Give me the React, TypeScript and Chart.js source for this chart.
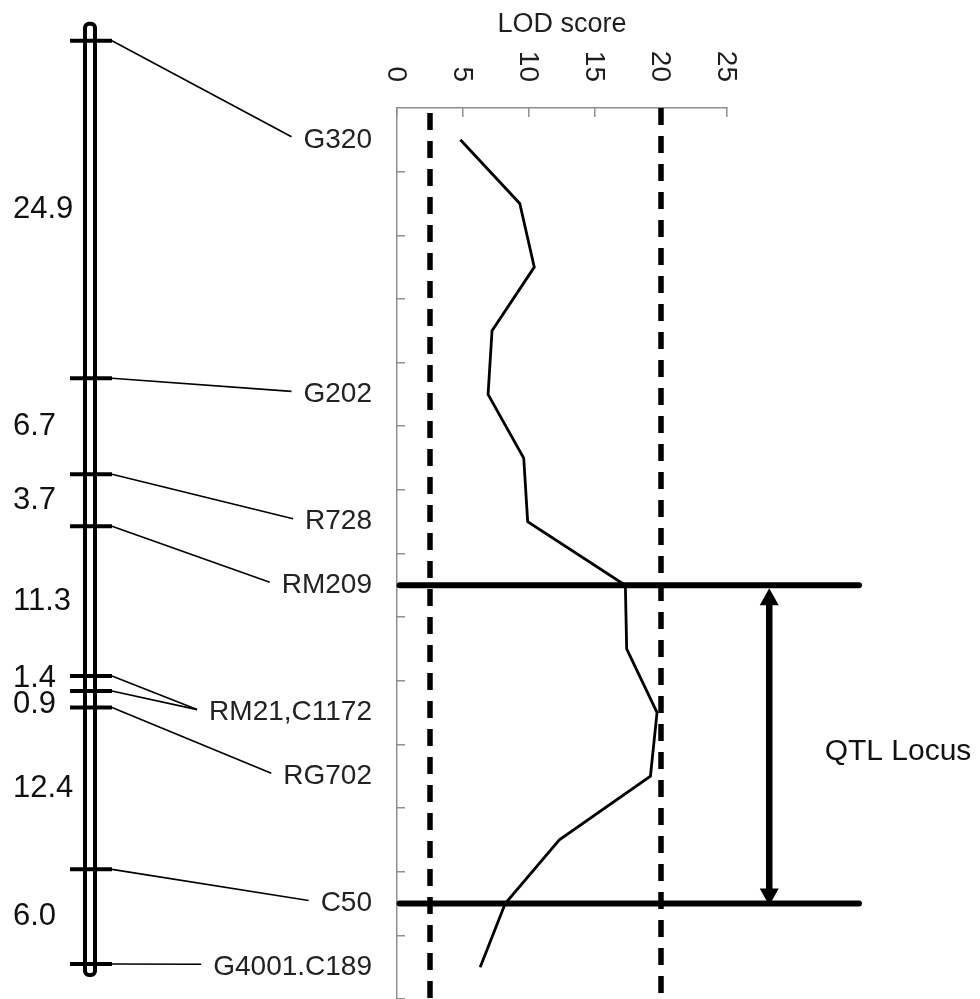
import React, { useEffect, useRef } from 'react';
import { Chart, registerables } from 'chart.js';

Chart.register(...registerables);

// ---------- DATA ----------
// Genetic linkage map (left panel)
const MARKER_NAMES = ['G320', 'G202', 'R728', 'RM209', 'RM21', 'C1172', 'RG702', 'C50', 'G4001.C189'];
const MARKER_POS_CM = [0, 24.6, 31.6, 35.4, 46.3, 47.4, 48.6, 60.4, 67.3];
const INTERVAL_LABELS = ['24.9', '6.7', '3.7', '11.3', '1.4', '0.9', '12.4', '6.0'];
const MARKER_LABELS = ['G320', 'G202', 'R728', 'RM209', 'RM21,C1172', 'RG702', 'C50', 'G4001.C189'];
const MARKER_LABEL_ROWS = [0, 4, 6, 7, 9, 10, 12, 13];
const MARKER_LABEL_LINKS = [[0], [1], [2], [3], [4, 5], [6], [7], [8]];

// LOD profile (right panel)
const PROFILE_ROWS = [0, 1, 2, 3, 4, 5, 6, 7, 8, 9, 10, 11, 12, 13];
const LOD_VALUES = [4.8, 9.3, 10.4, 7.2, 6.9, 9.6, 9.9, 17.3, 17.4, 19.7, 19.2, 12.3, 8.2, 6.3];
const LOD_THRESHOLDS = [2.5, 20];
const LOD_TICKS = [0, 5, 10, 15, 20, 25];
const ROW_TICKS = [0.5, 1.5, 2.5, 3.5, 4.5, 5.5, 6.5, 7.5, 8.5, 9.5, 10.5, 11.5, 12.5, 13.5];
const QTL_ROWS = [7, 12];
const AXIS_TITLE = 'LOD score';
const QTL_TEXT = 'QTL Locus';

// ---------- LAYOUT / STYLE ----------
const W = 980;
const H = 999;
const PLOT = { left: 397, top: 108, right: 727, bottom: 999 };
const MAP_TOP_PX = 40.7;
const MAP_BOTTOM_PX = 964;
const MAP_FIRST = MARKER_POS_CM[0];
const MAP_LAST = MARKER_POS_CM[MARKER_POS_CM.length - 1];
const MAP_PX_PER_CM = (MAP_BOTTOM_PX - MAP_TOP_PX) / (MAP_LAST - MAP_FIRST);
const MAP_MIN = MAP_FIRST + (PLOT.top - MAP_TOP_PX) / MAP_PX_PER_CM;
const MAP_MAX = MAP_LAST + (PLOT.bottom - MAP_BOTTOM_PX) / MAP_PX_PER_CM;
const QTL_LINE_SPAN = [0.2, 35];
const ARROW_LOD_X = 28.2;
const AXIS_GREY = '#8f8f8f';
const FONT = '"Liberation Sans", Arial, Helvetica, sans-serif';

const overlayPlugin = {
  id: 'qtlOverlay',
  afterDraw(chart: any) {
    const ctx = chart.ctx as CanvasRenderingContext2D;
    const xs = chart.scales.x;
    const ys = chart.scales.y;
    const ms = chart.scales.map;
    const area = chart.chartArea;
    ctx.save();

    // Axis title
    ctx.fillStyle = '#1e1e1e';
    ctx.font = `27px ${FONT}`;
    ctx.textAlign = 'center';
    ctx.textBaseline = 'middle';
    ctx.fillText(AXIS_TITLE, (area.left + area.right) / 2, 25);

    // Rotated tick labels (reading top to bottom)
    ctx.font = `28px ${FONT}`;
    LOD_TICKS.forEach((v) => {
      ctx.save();
      ctx.translate(xs.getPixelForValue(v) - 1, 82);
      ctx.rotate(Math.PI / 2);
      ctx.textAlign = 'right';
      ctx.textBaseline = 'middle';
      ctx.fillText(String(v), 0, 0);
      ctx.restore();
    });

    // Chromosome bar
    const yOf = (cm: number) => ms.getPixelForValue(cm);
    const yFirst = yOf(MAP_FIRST);
    const yLast = yOf(MAP_LAST);
    const barTop = yFirst - 17;
    const barBot = yLast + 11;
    ctx.strokeStyle = '#000';
    ctx.lineWidth = 4;
    ctx.beginPath();
    (ctx as any).roundRect(85, barTop, 10, barBot - barTop, 4);
    ctx.stroke();

    // Marker ticks
    ctx.lineWidth = 4;
    ctx.lineCap = 'butt';
    MARKER_POS_CM.forEach((cm) => {
      const y = yOf(cm);
      ctx.beginPath();
      ctx.moveTo(70, y);
      ctx.lineTo(112, y);
      ctx.stroke();
    });

    // Marker labels + connector lines
    ctx.font = `28px ${FONT}`;
    ctx.textAlign = 'right';
    ctx.textBaseline = 'middle';
    ctx.fillStyle = '#222';
    MARKER_LABELS.forEach((txt, i) => {
      const y = ys.getPixelForValue(MARKER_LABEL_ROWS[i]);
      const labelRight = 372;
      ctx.fillText(txt, labelRight, y);
      const w = ctx.measureText(txt).width;
      const endX = labelRight - w - 12;
      ctx.lineWidth = 1.6;
      MARKER_LABEL_LINKS[i].forEach((mi) => {
        ctx.beginPath();
        ctx.moveTo(112, yOf(MARKER_POS_CM[mi]));
        ctx.lineTo(endX, y - 3);
        ctx.stroke();
      });
    });

    // Interval distance labels (spread apart when too close)
    const mids = INTERVAL_LABELS.map((_, i) => (yOf(MARKER_POS_CM[i]) + yOf(MARKER_POS_CM[i + 1])) / 2);
    const minGap = 26;
    for (let iter = 0; iter < 20; iter++) {
      for (let i = 0; i < mids.length - 1; i++) {
        const d = mids[i + 1] - mids[i];
        if (d < minGap) {
          const push = (minGap - d) / 2;
          mids[i] -= push;
          mids[i + 1] += push;
        }
      }
    }
    ctx.font = `31px ${FONT}`;
    ctx.textAlign = 'left';
    ctx.fillStyle = '#111';
    INTERVAL_LABELS.forEach((t, i) => {
      ctx.fillText(t, 13, mids[i]);
    });

    // Double-headed arrow between QTL boundaries
    const ax = xs.getPixelForValue(ARROW_LOD_X);
    const topTip = ys.getPixelForValue(QTL_ROWS[0]) + 3;
    const botTip = ys.getPixelForValue(QTL_ROWS[1]) + 2;
    const headLen = 17;
    const headHalf = 9.5;
    ctx.fillStyle = '#000';
    ctx.lineWidth = 6.5;
    ctx.beginPath();
    ctx.moveTo(ax, topTip + headLen - 2);
    ctx.lineTo(ax, botTip - headLen + 2);
    ctx.stroke();
    ctx.beginPath();
    ctx.moveTo(ax, topTip);
    ctx.lineTo(ax - headHalf, topTip + headLen);
    ctx.lineTo(ax + headHalf, topTip + headLen);
    ctx.closePath();
    ctx.fill();
    ctx.beginPath();
    ctx.moveTo(ax, botTip);
    ctx.lineTo(ax - headHalf, botTip - headLen);
    ctx.lineTo(ax + headHalf, botTip - headLen);
    ctx.closePath();
    ctx.fill();

    // QTL text
    ctx.font = `30px ${FONT}`;
    ctx.textAlign = 'center';
    ctx.textBaseline = 'middle';
    ctx.fillStyle = '#111';
    ctx.fillText(QTL_TEXT, 898, (ys.getPixelForValue(QTL_ROWS[0]) + ys.getPixelForValue(QTL_ROWS[1])) / 2 + 7);

    ctx.restore();
  },
};

export default function App() {
  const ref = useRef<HTMLCanvasElement | null>(null);

  useEffect(() => {
    if (!ref.current) return;
    const datasets: any[] = [
      {
        label: 'LOD',
        data: PROFILE_ROWS.map((r, i) => ({ x: LOD_VALUES[i], y: r })),
        showLine: true,
        borderColor: '#000',
        borderWidth: 2.8,
        pointRadius: 0,
        tension: 0,
        xAxisID: 'x',
        yAxisID: 'y',
      },
      ...LOD_THRESHOLDS.map((t, i) => ({
        label: `threshold ${t}`,
        data: [
          { x: t, y: -0.5 },
          { x: t, y: 13.5 },
        ],
        showLine: true,
        borderColor: '#000',
        borderWidth: 5.5,
        borderDash: [17, 11],
        borderDashOffset: i === 0 ? -5 : 0,
        pointRadius: 0,
        xAxisID: 'x',
        yAxisID: 'y',
      })),
      ...QTL_ROWS.map((r) => ({
        label: `QTL bound ${r}`,
        data: [
          { x: QTL_LINE_SPAN[0], y: r },
          { x: QTL_LINE_SPAN[1], y: r },
        ],
        showLine: true,
        borderColor: '#000',
        borderWidth: 6,
        borderCapStyle: 'round',
        pointRadius: 0,
        clip: false,
        xAxisID: 'x',
        yAxisID: 'y',
      })),
    ];

    const chart = new Chart(ref.current, {
      type: 'scatter',
      data: { datasets },
      options: {
        responsive: false,
        animation: false,
        devicePixelRatio: 1,
        events: [],
        layout: {
          padding: { left: PLOT.left, top: PLOT.top, right: W - PLOT.right, bottom: H - PLOT.bottom },
        },
        plugins: { legend: { display: false }, tooltip: { enabled: false }, title: { display: false } },
        scales: {
          x: {
            type: 'linear',
            position: 'top',
            min: 0,
            max: 25,
            afterBuildTicks: (s: any) => {
              s.ticks = LOD_TICKS.map((v) => ({ value: v }));
            },
            afterFit: (s: any) => {
              s.height = 0;
            },
            ticks: { display: false },
            grid: { display: true, drawOnChartArea: false, drawTicks: true, tickLength: -9, color: AXIS_GREY, lineWidth: 1.5 },
            border: { display: true, color: AXIS_GREY, width: 1.5 },
          },
          y: {
            type: 'linear',
            position: 'left',
            reverse: true,
            min: -0.5,
            max: 13.5,
            afterBuildTicks: (s: any) => {
              s.ticks = ROW_TICKS.map((v) => ({ value: v }));
            },
            afterFit: (s: any) => {
              s.width = 0;
            },
            ticks: { display: false },
            grid: { display: true, drawOnChartArea: false, drawTicks: true, tickLength: -8, color: AXIS_GREY, lineWidth: 1.5 },
            border: { display: true, color: AXIS_GREY, width: 1.5 },
          },
          map: {
            type: 'linear',
            axis: 'y',
            position: 'left',
            display: false,
            reverse: true,
            min: MAP_MIN,
            max: MAP_MAX,
          },
        },
      } as any,
      plugins: [overlayPlugin],
    });
    return () => chart.destroy();
  }, []);

  return (
    <div style={{ position: 'fixed', left: 0, top: 0, width: W, height: H, overflow: 'hidden', background: '#fff' }}>
      <canvas ref={ref} width={W} height={H} style={{ display: 'block', width: W, height: H }} />
    </div>
  );
}
